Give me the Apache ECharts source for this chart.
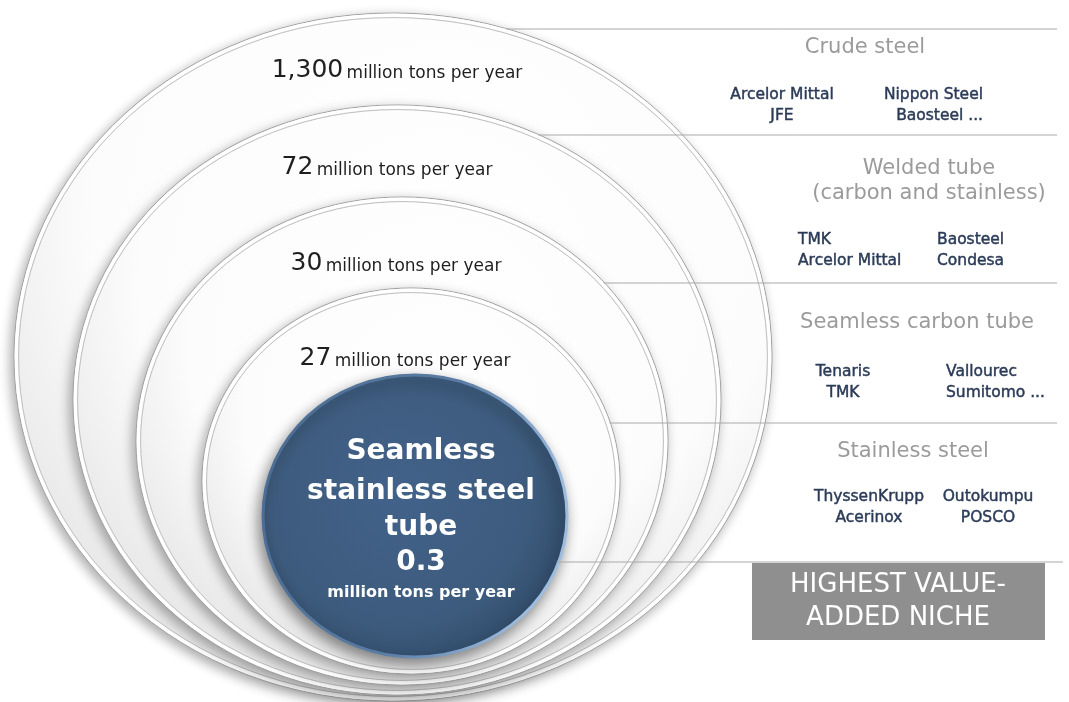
<!DOCTYPE html>
<html>
<head>
<meta charset="utf-8">
<script src="https://cdn.jsdelivr.net/npm/echarts@6/dist/echarts.min.js"></script>
<style>
html,body{margin:0;padding:0;background:#ffffff;}
#chart{width:1069px;height:702px;}
</style>
</head>
<body>
<div id="chart"></div>
<script>
// ---------- DATA ----------
const tierNames = ['Crude steel', 'Welded tube\n(carbon and stainless)', 'Seamless carbon tube', 'Stainless steel'];
const tierVolumes = ['1,300', '72', '30', '27'];
const volumeUnit = 'million tons per year';
const companiesLeft = [
  ['Arcelor Mittal', 'JFE'],
  ['TMK', 'Arcelor Mittal'],
  ['Tenaris', 'TMK'],
  ['ThyssenKrupp', 'Acerinox']
];
const companiesRight = [
  ['Nippon Steel', 'Baosteel ...'],
  ['Baosteel', 'Condesa'],
  ['Vallourec', 'Sumitomo ...'],
  ['Outokumpu', 'POSCO']
];
const coreName = ['Seamless', 'stainless steel', 'tube'];
const coreVolume = '0.3';
const nicheLabel = ['HIGHEST VALUE-', 'ADDED NICHE'];

// ---------- LAYOUT (diagram geometry, in canvas units) ----------
const ringLayout = [
  { cx: 393, cy: 357, rx: 379, ry: 344, labelX: 397, labelY: 70,  lineY: 29 },
  { cx: 397, cy: 400, rx: 324, ry: 295, labelX: 387, labelY: 167, lineY: 135 },
  { cx: 402, cy: 441, rx: 266, ry: 244, labelX: 396, labelY: 263, lineY: 283 },
  { cx: 411, cy: 481, rx: 209, ry: 193, labelX: 405, labelY: 358, lineY: 423 }
];
const panelLayout = [
  { titleX: 865, titleY: 48,  rowY: 105, leftX: 782, leftAlign: 'center', rightX: 983, rightAlign: 'right' },
  { titleX: 929, titleY: 181, rowY: 250, leftX: 798, leftAlign: 'left',   rightX: 937, rightAlign: 'left' },
  { titleX: 917, titleY: 323, rowY: 382, leftX: 843, leftAlign: 'center', rightX: 946, rightAlign: 'left' },
  { titleX: 913, titleY: 452, rowY: 507, leftX: 869, leftAlign: 'center', rightX: 988, rightAlign: 'center' }
];
const coreLayout = { cx: 415, cy: 516, rx: 152, ry: 141, lineY: 562, textX: 421, textY: [452, 492, 528, 563, 593] };
const nicheLayout = { x: 752, y: 563, w: 293, h: 77, textX: 898, textY: [585, 618] };
const lineRight = 1057;

const FONT = 'DejaVu Sans';

// ---------- HELPERS ----------
function ellipseShape(api, L, inset) {
  const a = api.coord([L.cx - L.rx, L.cy - L.ry]);
  const b = api.coord([L.cx + L.rx, L.cy + L.ry]);
  return {
    cx: (a[0] + b[0]) / 2,
    cy: (a[1] + b[1]) / 2,
    rx: Math.abs(b[0] - a[0]) / 2 - inset,
    ry: Math.abs(b[1] - a[1]) / 2 - inset
  };
}
function edgeX(L, y) {
  const t = (y - L.cy) / L.ry;
  return L.cx + L.rx * Math.sqrt(Math.max(0, 1 - t * t));
}
function ringFill() {
  return new echarts.graphic.RadialGradient(0.56, 0.3, 0.85, [
    { offset: 0, color: '#ffffff' },
    { offset: 0.6, color: '#fcfcfc' },
    { offset: 1, color: '#dcdcdc' }
  ]);
}

function renderRing(params, api) {
  const i = params.dataIndex;
  const L = ringLayout[i];
  const P = panelLayout[i];
  const children = [];
  children.push({
    type: 'ellipse', shape: ellipseShape(api, L, 0),
    style: { fill: '#eeeeee', stroke: '#a0a0a0', lineWidth: 1,
      shadowBlur: 12, shadowColor: 'rgba(0,0,0,0.33)', shadowOffsetX: -3, shadowOffsetY: 4 }
  });
  children.push({
    type: 'ellipse', shape: ellipseShape(api, L, 2.3),
    style: { fill: null, stroke: '#ffffff', lineWidth: 3.4 }
  });
  children.push({
    type: 'ellipse', shape: ellipseShape(api, L, 4.6),
    style: { fill: ringFill(), stroke: '#c0c0c0', lineWidth: 1 }
  });
  // separator line from ring edge to the right panel
  const p0 = api.coord([edgeX(L, L.lineY) - 1, L.lineY]);
  const p1 = api.coord([lineRight, L.lineY]);
  children.push({
    type: 'line', shape: { x1: p0[0], y1: p0[1], x2: p1[0], y2: p1[1] },
    style: { stroke: '#a9a9a9', lineWidth: 1 }
  });
  // volume label inside ring
  const lp = api.coord([L.labelX, L.labelY]);
  children.push({
    type: 'text', x: lp[0], y: lp[1],
    style: {
      text: '{n|' + tierVolumes[i] + '} {u|' + volumeUnit + '}',
      align: 'center', verticalAlign: 'middle',
      rich: {
        n: { fontSize: 25, fontFamily: FONT, fill: '#1f1f1f', lineHeight: 26, verticalAlign: 'bottom' },
        u: { fontSize: 17, fontFamily: FONT, fill: '#1f1f1f', lineHeight: 26, verticalAlign: 'bottom', padding: [0, 0, 1, 0] }
      }
    }
  });
  // panel title
  const tp = api.coord([P.titleX, P.titleY]);
  children.push({
    type: 'text', x: tp[0], y: tp[1],
    style: { text: tierNames[i], align: 'center', verticalAlign: 'middle',
      font: '21px "' + FONT + '"', fill: '#9b9b9b', lineHeight: 25 }
  });
  // companies
  const compStyle = function (txt, align) {
    return { text: txt, align: align, verticalAlign: 'middle',
      font: '15.5px "' + FONT + '"', fill: '#2b3b57', lineHeight: 21,
      stroke: '#2b3b57', lineWidth: 0.45 };
  };
  const cl = api.coord([P.leftX, P.rowY]);
  children.push({ type: 'text', x: cl[0], y: cl[1], style: compStyle(companiesLeft[i].join('\n'), P.leftAlign) });
  const cr = api.coord([P.rightX, P.rowY]);
  children.push({ type: 'text', x: cr[0], y: cr[1], style: compStyle(companiesRight[i].join('\n'), P.rightAlign) });
  return { type: 'group', children: children };
}

function renderCore(params, api) {
  const C = coreLayout;
  const N = nicheLayout;
  const children = [];
  const shp = ellipseShape(api, C, 0);
  children.push({
    type: 'ellipse', shape: shp,
    style: {
      fill: new echarts.graphic.RadialGradient(0.45, 0.42, 0.62, [
        { offset: 0, color: '#43628a' },
        { offset: 0.75, color: '#3d5b7d' },
        { offset: 1, color: '#324d6c' }
      ]),
      stroke: new echarts.graphic.LinearGradient(0, 0, 1, 0.3, [
        { offset: 0, color: '#4a6a90' },
        { offset: 0.6, color: '#5a7ca3' },
        { offset: 1, color: '#9dbde0' }
      ]),
      lineWidth: 3,
      shadowBlur: 14, shadowColor: 'rgba(0,0,0,0.45)', shadowOffsetX: -3, shadowOffsetY: 6
    }
  });
  const lines = coreName.concat([coreVolume]);
  lines.forEach(function (t, k) {
    const p = api.coord([C.textX, C.textY[k]]);
    children.push({
      type: 'text', x: p[0], y: p[1],
      style: { text: t, align: 'center', verticalAlign: 'middle',
        font: 'bold 28px "' + FONT + '"', fill: '#ffffff' }
    });
  });
  const pu = api.coord([C.textX, C.textY[4]]);
  children.push({
    type: 'text', x: pu[0], y: pu[1],
    style: { text: volumeUnit, align: 'center', verticalAlign: 'middle',
      font: 'bold 16px "' + FONT + '"', fill: '#ffffff' }
  });
  // bottom separator line
  const p0 = api.coord([edgeX(C, C.lineY) - 2, C.lineY]);
  const p1 = api.coord([lineRight + 6, C.lineY]);
  children.push({
    type: 'line', shape: { x1: p0[0], y1: p0[1], x2: p1[0], y2: p1[1] },
    style: { stroke: '#a9a9a9', lineWidth: 1 }
  });
  // niche box
  const r0 = api.coord([N.x, N.y]);
  const r1 = api.coord([N.x + N.w, N.y + N.h]);
  children.push({
    type: 'rect', shape: { x: r0[0], y: r0[1], width: r1[0] - r0[0], height: r1[1] - r0[1] },
    style: { fill: '#8f8f8f' }
  });
  nicheLabel.forEach(function (t, k) {
    const p = api.coord([N.textX, N.textY[k]]);
    children.push({
      type: 'text', x: p[0], y: p[1],
      style: { text: t, align: 'center', verticalAlign: 'middle',
        font: '26px "' + FONT + '"', fill: '#ffffff' }
    });
  });
  return { type: 'group', children: children };
}

const chart = echarts.init(document.getElementById('chart'), null, { renderer: 'canvas' });
chart.setOption({
  backgroundColor: '#ffffff',
  animation: false,
  grid: { left: 0, right: 0, top: 0, bottom: 0 },
  xAxis: { type: 'value', min: 0, max: 1069, show: false },
  yAxis: { type: 'value', min: 0, max: 702, inverse: true, show: false },
  tooltip: { show: false },
  series: [
    {
      type: 'custom', name: 'tiers', coordinateSystem: 'cartesian2d', z: 2,
      renderItem: renderRing,
      data: tierNames.map(function (n, i) { return { name: n, value: [ringLayout[i].cx, ringLayout[i].cy, tierVolumes[i]] }; })
    },
    {
      type: 'custom', name: 'core', coordinateSystem: 'cartesian2d', z: 3,
      renderItem: renderCore,
      data: [{ name: coreName.join(' '), value: [coreLayout.cx, coreLayout.cy, coreVolume] }]
    }
  ]
});
</script>
</body>
</html>
